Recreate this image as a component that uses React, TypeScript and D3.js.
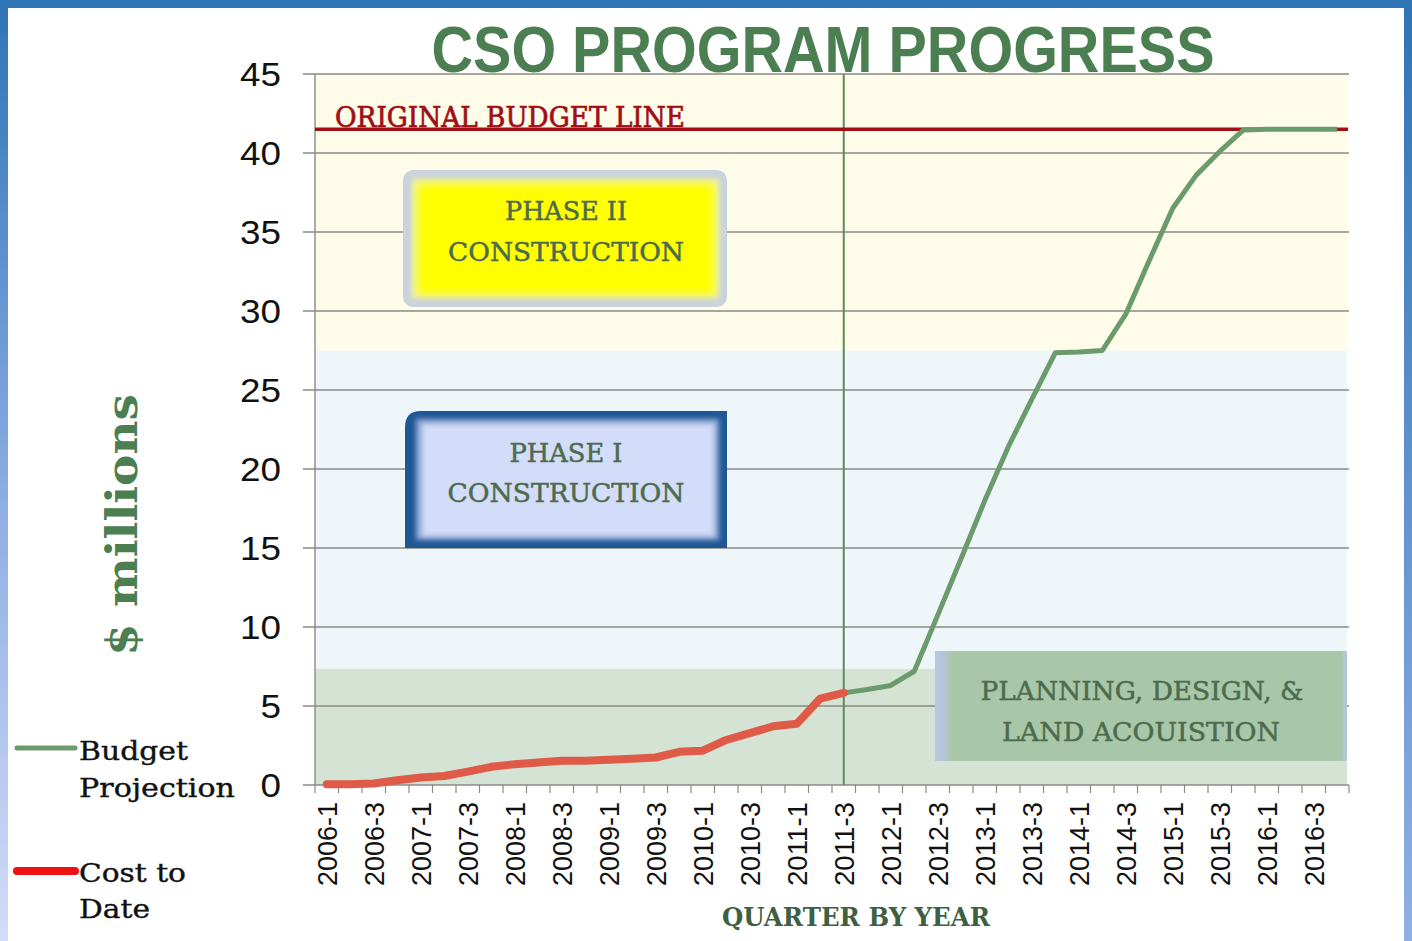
import React from "react";
import * as d3 from "d3";

const quarters = [
  "2006-1","2006-2","2006-3","2006-4","2007-1","2007-2","2007-3","2007-4",
  "2008-1","2008-2","2008-3","2008-4","2009-1","2009-2","2009-3","2009-4",
  "2010-1","2010-2","2010-3","2010-4","2011-1","2011-2","2011-3","2011-4",
  "2012-1","2012-2","2012-3","2012-4","2013-1","2013-2","2013-3","2013-4",
  "2014-1","2014-2","2014-3","2014-4","2015-1","2015-2","2015-3","2015-4",
  "2016-1","2016-2","2016-3","2016-4",
];
const tickLabels = [
  "2006-1","2006-3","2007-1","2007-3","2008-1","2008-3","2009-1","2009-3",
  "2010-1","2010-3","2011-1","2011-3","2012-1","2012-3","2013-1","2013-3",
  "2014-1","2014-3","2015-1","2015-3","2016-1","2016-3",
];
const yTicks = [0, 5, 10, 15, 20, 25, 30, 35, 40, 45];

const costQuarters = quarters.slice(0, 23);
const costToDate = [
  0.05, 0.05, 0.1, 0.3, 0.47, 0.57, 0.85, 1.15, 1.32, 1.42, 1.53, 1.53,
  1.6, 1.66, 1.74, 2.1, 2.17, 2.85, 3.28, 3.72, 3.87, 5.47, 5.83,
];
const budgetQuarters = quarters.slice(22);
const budgetProjection = [
  5.83, 6.05, 6.3, 7.2, 10.75, 14.35, 18.0, 21.4, 24.4, 27.35, 27.4,
  27.5, 29.8, 33.2, 36.5, 38.6, 40.1, 41.45, 41.5, 41.5, 41.5, 41.5,
];
const originalBudget = 41.5;
const currentQuarter = "2011-3";
const bands = [
  { from: 27.5, to: 45, color: "#fffde9" },
  { from: 7.35, to: 27.5, color: "#eff6fa" },
  { from: 0, to: 7.35, color: "#d5e3d5" },
];

const W = 1412;
const H = 941;
const L = 315;
const R = 1349;
const T = 74;
const B = 785;

const slab = "'DejaVu Serif', serif";
const sans = "'Liberation Sans', Arial, sans-serif";

export default function App() {
  const x = d3.scaleBand<string>().domain(quarters).range([L, R]).padding(0);
  const y = d3.scaleLinear().domain([0, 45]).range([B, T]);
  const cx = (q: string) => (x(q) as number) + x.bandwidth() / 2;

  const costLine = d3
    .line<number>()
    .x((_, i) => cx(costQuarters[i]))
    .y((d) => y(d));
  const budgetLine = d3
    .line<number>()
    .x((_, i) => cx(budgetQuarters[i]))
    .y((d) => y(d));

  const boundaries = quarters.map((q) => x(q) as number).concat([R]);

  const boxText = {
    fontFamily: slab,
    fontSize: 26,
    fill: "#4d6b4d",
    stroke: "#4d6b4d",
    strokeWidth: 0.5,
    textAnchor: "middle" as const,
    lengthAdjust: "spacingAndGlyphs",
  };
  const legendText = {
    fontFamily: slab,
    fontSize: 26,
    fill: "#111",
    stroke: "#111",
    strokeWidth: 0.4,
    lengthAdjust: "spacingAndGlyphs",
  };

  return (
    <svg
      width={W}
      height={H}
      style={{ position: "absolute", left: 0, top: 0, background: "#fff" }}
    >
      <defs>
        <linearGradient id="leftEdge" x1="0" y1="0" x2="0" y2="1">
          <stop offset="0" stopColor="#2f74b5" />
          <stop offset="0.55" stopColor="#8fb0e4" />
          <stop offset="1" stopColor="#d3dcf8" />
        </linearGradient>
        <linearGradient id="rightEdge" x1="0" y1="0" x2="0" y2="1">
          <stop offset="0" stopColor="#2f74b5" />
          <stop offset="1" stopColor="#8fb0e4" />
        </linearGradient>
        <filter id="soft" x="-10%" y="-10%" width="120%" height="120%">
          <feGaussianBlur stdDeviation="4" />
        </filter>
        <filter id="soft2" x="-10%" y="-10%" width="120%" height="120%">
          <feGaussianBlur stdDeviation="2.5" />
        </filter>
        <clipPath id="p2clip">
          <rect x={403} y={170} width={324} height={137} rx={10} />
        </clipPath>
        <clipPath id="p1clip">
          <path d="M405,427 Q405,411 421,411 L727,411 L727,548 L405,548 Z" />
        </clipPath>
        <clipPath id="plclip">
          <rect x={935} y={651} width={412} height={110} />
        </clipPath>
      </defs>

      {/* frame */}
      <rect x={0} y={0} width={W} height={H} fill="#ffffff" />
      <rect x={0} y={0} width={8} height={H} fill="url(#leftEdge)" />
      <rect x={1404} y={0} width={8} height={H} fill="url(#rightEdge)" />
      <rect x={0} y={0} width={W} height={8} fill="#2f74b5" />

      {/* background bands */}
      {bands.map((b, i) => (
        <rect
          key={i}
          x={L}
          y={y(b.to)}
          width={R - 2 - L}
          height={y(b.from) - y(b.to)}
          fill={b.color}
        />
      ))}

      {/* gridlines */}
      {yTicks.map((t) => (
        <line
          key={t}
          x1={303}
          x2={R}
          y1={y(t)}
          y2={y(t)}
          stroke="#8a8a85"
          strokeWidth={1.4}
        />
      ))}
      <line x1={L} x2={L} y1={T} y2={B} stroke="#8a8a85" strokeWidth={1.4} />
      {boundaries.map((bx, i) => (
        <line
          key={i}
          x1={bx}
          x2={bx}
          y1={B}
          y2={B + 8}
          stroke="#8a8a85"
          strokeWidth={1.2}
        />
      ))}

      {/* y tick labels */}
      {yTicks.map((t) => (
        <text
          key={t}
          x={281}
          y={y(t)}
          dy="0.36em"
          textAnchor="end"
          fontFamily={sans}
          fontSize={33}
          fill="#111"
          textLength={String(t).length * 20.5}
          lengthAdjust="spacingAndGlyphs"
        >
          {t}
        </text>
      ))}

      {/* x tick labels */}
      {tickLabels.map((q) => (
        <text
          key={q}
          transform={`translate(${cx(q) + 10},${B + 17}) rotate(-90)`}
          textAnchor="end"
          fontFamily={sans}
          fontSize={27}
          fill="#111"
          textLength={84}
          lengthAdjust="spacingAndGlyphs"
        >
          {q}
        </text>
      ))}

      {/* Phase II box */}
      <g clipPath="url(#p2clip)">
        <rect x={403} y={170} width={324} height={137} fill="#c9d3dd" />
        <rect x={412} y={179} width={307} height={119} fill="#f3f39a" filter="url(#soft2)" />
        <rect x={418} y={184} width={296} height={110} fill="#ffff00" filter="url(#soft)" />
      </g>
      <text x={566} y={220} {...boxText} textLength={122}>PHASE II</text>
      <text x={566} y={261} {...boxText} textLength={236}>CONSTRUCTION</text>

      {/* Phase I box */}
      <g clipPath="url(#p1clip)">
        <rect x={405} y={411} width={322} height={137} fill="#1f5794" />
        <rect x={416} y={419} width={303} height={121} fill="#8fa8d4" filter="url(#soft2)" />
        <rect x={422} y={424} width={292} height={112} fill="#d3dcf8" filter="url(#soft2)" />
      </g>
      <text x={566} y={462} {...boxText} textLength={113}>PHASE I</text>
      <text x={566} y={502} {...boxText} textLength={237}>CONSTRUCTION</text>

      {/* vertical current quarter line */}
      <line
        x1={cx(currentQuarter)}
        x2={cx(currentQuarter)}
        y1={T}
        y2={B}
        stroke="#5b8a5e"
        strokeWidth={2}
      />

      {/* planning box */}
      <g clipPath="url(#plclip)">
        <rect x={935} y={651} width={412} height={110} fill="#b7c6e2" />
        <rect x={947} y={644} width={396} height={124} fill="#a8c7a8" filter="url(#soft)" />
        <rect x={952} y={648} width={390} height={118} fill="#a8c7a8" />
      </g>
      <text x={1142} y={700} {...boxText} textLength={323}>PLANNING, DESIGN, &amp;</text>
      <text x={1141} y={741} {...boxText} textLength={278}>LAND ACOUISTION</text>

      {/* original budget line */}
      <line
        x1={L}
        x2={R - 1}
        y1={y(originalBudget)}
        y2={y(originalBudget)}
        stroke="#a10f16"
        strokeWidth={3.5}
      />
      <text x={335} y={127} fontFamily={slab} fontSize={27} fill="#a10f16" stroke="#a10f16"
        strokeWidth={0.7} textLength={350} lengthAdjust="spacingAndGlyphs">ORIGINAL BUDGET LINE</text>

      {/* series */}
      <path
        d={budgetLine(budgetProjection) || ""}
        fill="none"
        stroke="#6b9b6d"
        strokeWidth={5}
        strokeLinejoin="round"
      />
      <path
        d={costLine(costToDate) || ""}
        fill="none"
        stroke="#df5a47"
        strokeWidth={8}
        strokeLinejoin="round"
        strokeLinecap="round"
      />

      {/* title */}
      <text x={823} y={72} textAnchor="middle" fontFamily="'Liberation Sans Narrow', 'Liberation Sans', sans-serif"
        fontWeight="bold" fontSize={64} fill="#4b7f52" textLength={783} lengthAdjust="spacingAndGlyphs">
        CSO PROGRAM PROGRESS
      </text>

      {/* y axis title */}
      <text transform="translate(137,525) rotate(-90)" textAnchor="middle" fontFamily={slab}
        fontWeight="bold" fontSize={42} fill="#4b7f52" textLength={262} lengthAdjust="spacingAndGlyphs">
        $ millions
      </text>

      {/* x axis title */}
      <text x={856} y={926} textAnchor="middle" fontFamily={slab} fontWeight="bold"
        fontSize={26} fill="#3f5f42" textLength={268} lengthAdjust="spacingAndGlyphs">
        QUARTER BY YEAR
      </text>

      {/* legend */}
      <line x1={17} x2={75} y1={748} y2={748} stroke="#6b9b6d" strokeWidth={5} strokeLinecap="round" />
      <text x={79} y={760} {...legendText} textLength={109}>Budget</text>
      <text x={79} y={797} {...legendText} textLength={156}>Projection</text>
      <line x1={17} x2={75} y1={871} y2={871} stroke="#ee1111" strokeWidth={8} strokeLinecap="round" />
      <text x={79} y={882} {...legendText} textLength={107}>Cost to</text>
      <text x={79} y={918} {...legendText} textLength={71}>Date</text>
    </svg>
  );
}
